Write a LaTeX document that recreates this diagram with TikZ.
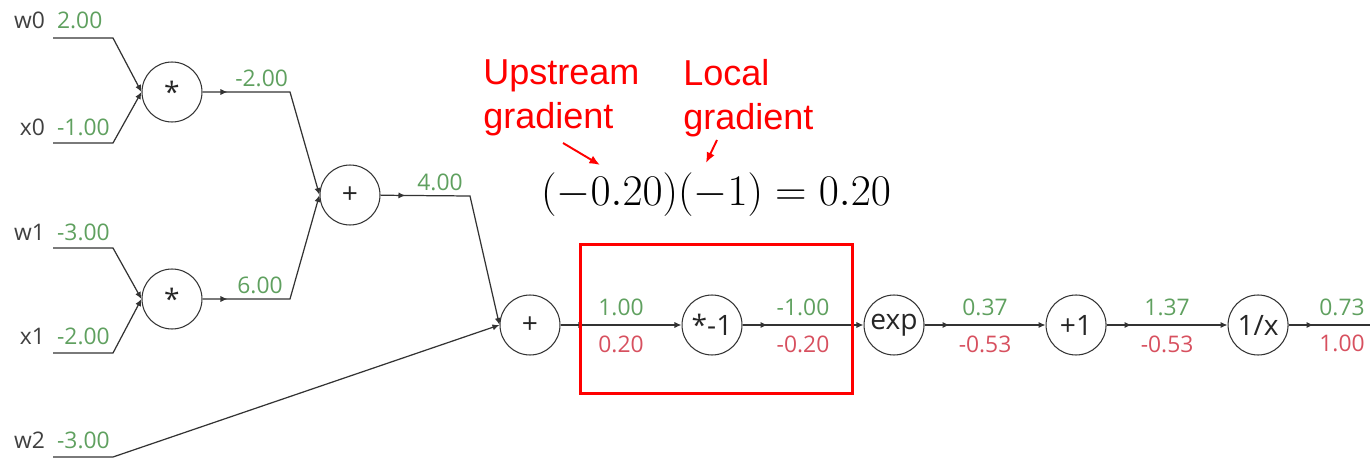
\documentclass[tikz,border=0pt]{standalone}
\usepackage{fontspec}
\setsansfont{Open Sans}
\newfontfamily\notefont{Liberation Sans}
\usetikzlibrary{positioning, arrows.meta, decorations.markings}
\definecolor{fwdgreen}{RGB}{95,160,95}
\definecolor{bwdred}{RGB}{215,80,95}
\definecolor{markred}{RGB}{255,0,0}

\begin{document}
\begin{tikzpicture}[
        x=0.02cm, y=-0.02cm,
        node distance=2.42cm,
        op/.style={
            circle,
            draw=black!80,
            line width=0.6pt,
            minimum size=1.2cm,
            inner sep=0pt,
            text=black!85,
            font=\sffamily\fontsize{16}{18}\selectfont
        },
        inlbl/.style={
            inner sep=1pt,
            text=black!75,
            font=\sffamily\fontsize{13}{15}\selectfont
        },
        fwd/.style={
            inlbl,
            text=fwdgreen
        },
        bwd/.style={
            inlbl,
            text=bwdred
        },
        inwire/.style={
            draw=black!80,
            line width=0.7pt,
            -{Latex[length=4pt,width=3.5pt]}
        },
        wire/.style={
            draw=black!80,
            line width=0.7pt,
            postaction={decorate},
            decoration={markings,
                mark=at position 0.5cm with {\arrow{Latex[length=4pt,width=3.5pt]}}}
        },
        flow/.style={
            wire,
            -{Latex[length=4pt,width=3.5pt]}
        },
        note/.style={
            inner sep=0pt,
            align=left,
            text=markred,
            font=\notefont\fontsize{20.5}{25}\selectfont
        },
        notearrow/.style={
            draw=markred,
            line width=1.1pt,
            -{Latex[length=6pt,width=5pt]}
        },
        focus/.style={
            draw=markred,
            line width=1.7pt,
            inner sep=0pt
        }
    ]

        \useasboundingbox (0,0) rectangle (1370,459);

        % Wejścia
        \node[inlbl, anchor=east] (w0) at (47,20) {w0};
        \node[fwd, anchor=west] (w0v) at (55,20) {2.00};
        \node[inlbl, anchor=east] (x0) at (47,127) {x0};
        \node[fwd, anchor=west] (x0v) at (55,127) {-1.00};
        \node[inlbl, anchor=east] (w1) at (47,232) {w1};
        \node[fwd, anchor=west] (w1v) at (55,232) {-3.00};
        \node[inlbl, anchor=east] (x1) at (47,336) {x1};
        \node[fwd, anchor=west] (x1v) at (55,336) {-2.00};
        \node[inlbl, anchor=east] (w2) at (47,440) {w2};
        \node[fwd, anchor=west] (w2v) at (55,440) {-3.00};

        \coordinate (w0a) at (53,38);  \coordinate (w0b) at (113,38);
        \coordinate (x0a) at (53,143); \coordinate (x0b) at (113,143);
        \coordinate (w1a) at (53,248); \coordinate (w1b) at (113,248);
        \coordinate (x1a) at (53,353); \coordinate (x1b) at (113,353);
        \coordinate (w2a) at (53,457); \coordinate (w2b) at (113,457);

        % Operacje
        \node[op] (mul0) at (172,92) {*};
        \node[op] (mul1) at (172,299) {*};
        \node[op] (add0) at (350,195) {+};
        \node[op] (add1) at (530,325) {+};
        \node[op, right=of add1] (neg) {*-1};
        \node[op, right=of neg] (exp) {exp};
        \node[op, right=of exp] (inc) {+1};
        \node[op, right=of inc] (inv) {1/x};
        \coordinate (out) at (1375,325);

        \coordinate (m0b) at (290,92);
        \coordinate (m1b) at (290,299);
        \coordinate (a0b) at (470,196);

        % Połączenia wejść
        \draw[inwire] (w0a) -- (w0b) -- (mul0.west);
        \draw[inwire] (x0a) -- (x0b) -- (mul0.west);
        \draw[inwire] (w1a) -- (w1b) -- (mul1.west);
        \draw[inwire] (x1a) -- (x1b) -- (mul1.west);
        \draw[inwire] (w2a) -- (w2b) -- (add1.west);

        % Gałęzie sumy
        \draw[flow] (mul0) -- (m0b) -- (add0.west);
        \draw[flow] (mul1) -- (m1b) -- (add0.west);
        \draw[flow] (add0) -- (a0b) -- (add1.west);
        \node[fwd, anchor=south east] at ([yshift=2pt]m0b) {-2.00};
        \node[fwd, anchor=south east] at ([xshift=-3pt,yshift=2pt]m1b) {6.00};
        \node[fwd, anchor=south east] at ([xshift=-3pt,yshift=2pt]a0b) {4.00};

        % Łańcuch sigmoidy
        \draw[flow] (add1) -- node[fwd, above=4pt] {1.00} node[bwd, below=5pt] {0.20} (neg);
        \draw[flow] (neg) -- node[fwd, above=4pt] {-1.00} node[bwd, below=5pt] {-0.20} (exp);
        \draw[flow] (exp) -- node[fwd, above=4pt] {0.37} node[bwd, below=5pt] {-0.53} (inc);
        \draw[flow] (inc) -- node[fwd, above=4pt] {1.37} node[bwd, below=5pt] {-0.53} (inv);
        \draw[wire] (inv) -- (out);
        \node[fwd, anchor=south] at (1342,318) {0.73};
        \node[bwd, anchor=north] at (1342,333) {1.00};

        % Adnotacje
        \node[note, anchor=north west] (ups) at (483,59) {Upstream\\gradient};
        \node[note, anchor=north west] (loc) at (683,59) {Local\\gradient};
        \node[inner sep=0pt, font=\fontsize{26}{30}\selectfont] (eq) at (716,195) {$(-0.20)(-1) = 0.20$};
        \coordinate (upa) at (563,143); \coordinate (upb) at (600,165);
        \coordinate (loca) at (717,140); \coordinate (locb) at (706,163);
        \draw[notearrow] (upa) -- (upb);
        \draw[notearrow] (loca) -- (locb);

        \node[focus, minimum width=5.46cm, minimum height=3cm] (box) at (716.5,319) {};

    \end{tikzpicture}
\end{document}
